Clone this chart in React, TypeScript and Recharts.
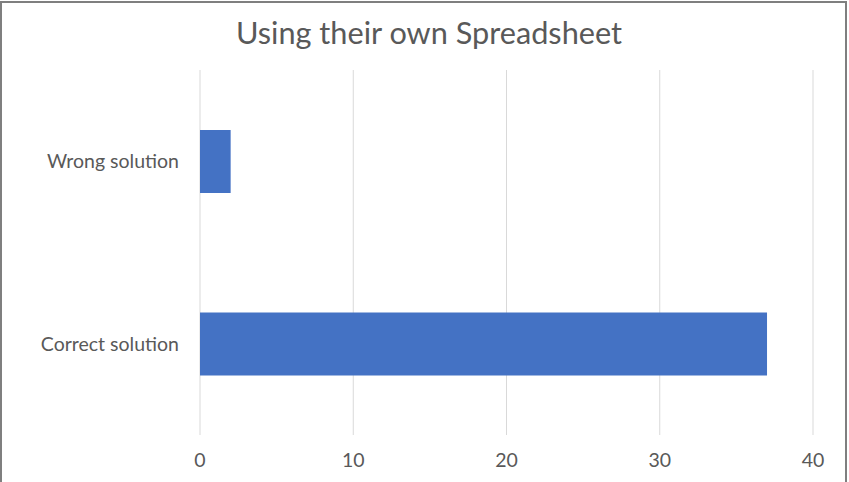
import React from "react";
import { BarChart, Bar, XAxis, YAxis, CartesianGrid } from "recharts";

const categories = ["Wrong solution", "Correct solution"];
const counts = [2, 37];
const xTicks = [0, 10, 20, 30, 40];
const title = "Using their own Spreadsheet";

const data = categories.map((name, i) => ({ name, value: counts[i] }));

const FONT = "Lato, 'Open Sans', sans-serif";

export default function App() {
  return (
    <div style={{ position: "absolute", left: 0, top: 0, width: 849, height: 482, overflow: "hidden", background: "#fff" }}>
      <div
        style={{
          position: "absolute",
          left: 0,
          top: 1,
          width: 847,
          height: 500,
          boxSizing: "border-box",
          border: "2px solid #7f7f7f",
        }}
      />
      <div
        style={{
          position: "absolute",
          left: 0,
          top: 13,
          width: 858,
          textAlign: "center",
          fontFamily: FONT,
          fontSize: 30.7,
          lineHeight: "40px",
          color: "#595959",
        }}
      >
        {title}
      </div>
      <div style={{ position: "absolute", left: 0, top: 0 }}>
        <BarChart
          width={849}
          height={482}
          data={data}
          layout="vertical"
          margin={{ top: 70, right: 36, bottom: 17, left: 0 }}
        >
          <CartesianGrid horizontal={false} stroke="#d9d9d9" strokeWidth={1} />
          <XAxis
            type="number"
            domain={[0, 40]}
            ticks={xTicks}
            axisLine={false}
            tickLine={false}
            height={30}
            tickMargin={12}
            tick={{ fill: "#595959", fontSize: 19.5, fontFamily: FONT }}
          />
          <YAxis
            type="category"
            dataKey="name"
            width={200}
            axisLine={false}
            tickLine={false}
            tickMargin={15}
            tick={{ fill: "#595959", fontSize: 19.5, fontFamily: FONT }}
          />
          <Bar dataKey="value" fill="#4472C4" barSize={63} isAnimationActive={false} />
        </BarChart>
      </div>
    </div>
  );
}
